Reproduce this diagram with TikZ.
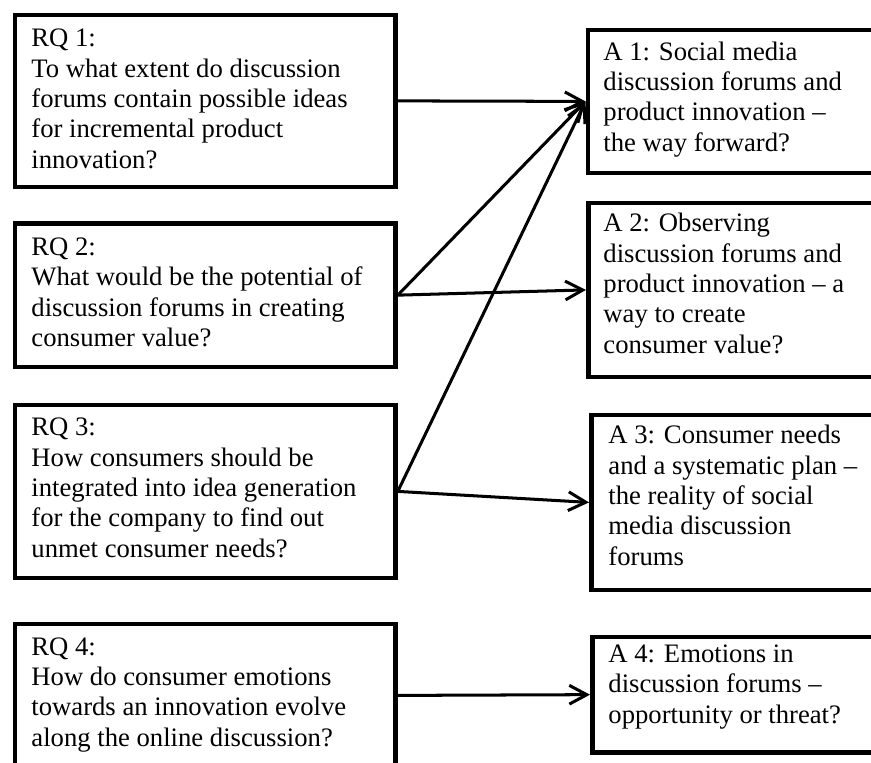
\documentclass[tikz,border=0pt]{standalone}
\usepackage{fontspec}
\setmainfont{Liberation Serif}
\usetikzlibrary{arrows.meta}
\newcommand{\pxu}{0.48pt}
\begin{document}
\begin{tikzpicture}[x=0.48pt,y=-0.48pt,
  qbox/.style={draw, line width=2.3pt, rectangle, inner sep=0pt, anchor=north west},
  % texts are placed by the baseline of their last line
  qtext/.style={anchor=base west, inner sep=0pt, align=left,
    font=\fontsize{12.8}{14.55}\selectfont},
  link/.style={line width=1.45pt, -{Straight Barb[length=8.4pt,width=9pt]}}]
\useasboundingbox (0,0) rectangle (871,762);
\clip (0,0) rectangle (871,762);

% research questions (left column)
\node[qbox, minimum width=380.5*\pxu, minimum height=172*\pxu]   (rq1) at (12.5,12.5)  {};
\node[qbox, minimum width=380.5*\pxu, minimum height=143.5*\pxu] (rq2) at (12.5,221)   {};
\node[qbox, minimum width=380.5*\pxu, minimum height=173*\pxu]   (rq3) at (12.5,402.5) {};
\node[qbox, minimum width=380.5*\pxu, minimum height=143*\pxu]   (rq4) at (12.5,621.5) {};

% articles (right column)
\node[qbox, minimum width=320*\pxu, minimum height=143*\pxu] (a1) at (585.5,27.5)  {};
\node[qbox, minimum width=320*\pxu, minimum height=174*\pxu] (a2) at (586,200.5)   {};
\node[qbox, minimum width=320*\pxu, minimum height=175*\pxu] (a3) at (589,412.5)   {};
\node[qbox, minimum width=320*\pxu, minimum height=115.5*\pxu] (a4) at (590,634.5) {};

% texts
\node[qtext] (rq1t) at (31,168) {RQ 1:\\To what extent do discussion\\forums contain possible ideas\\for incremental product\\innovation?};
\node[qtext] (rq2t) at (31,346.5) {RQ 2:\\What would be the potential of\\discussion forums in creating\\consumer value?};
\node[qtext] (rq3t) at (31,557) {RQ 3:\\How consumers should be\\integrated into idea generation\\for the company to find out\\unmet consumer needs?};
\node[qtext] (rq4t) at (31,746) {RQ 4:\\How do consumer emotions\\towards an innovation evolve\\along the online discussion?};

\node[qtext] (a1t) at (603,151)  {A 1: Social media\\discussion forums and\\product innovation --\\the way forward?};
\node[qtext] (a2t) at (603,353) {A 2: Observing\\discussion forums and\\product innovation -- a\\way to create\\consumer value?};
\node[qtext] (a3t) at (608,565) {A 3: Consumer needs\\and a systematic plan --\\the reality of social\\media discussion\\forums};
\node[qtext] (a4t) at (608,723) {A 4: Emotions in\\discussion forums --\\opportunity or threat?};

% connectors
\draw[link] (rq1.east) -- (a1.west);
\draw[link] (rq2.east) -- (a1.west);
\draw[link] (rq2.east) -- (a2.west);
\draw[link] (rq3.east) -- (a1.west);
\draw[link] (rq3.east) -- (a3.west);
\draw[link] (rq4.east) -- (a4.west);
\end{tikzpicture}
\end{document}
